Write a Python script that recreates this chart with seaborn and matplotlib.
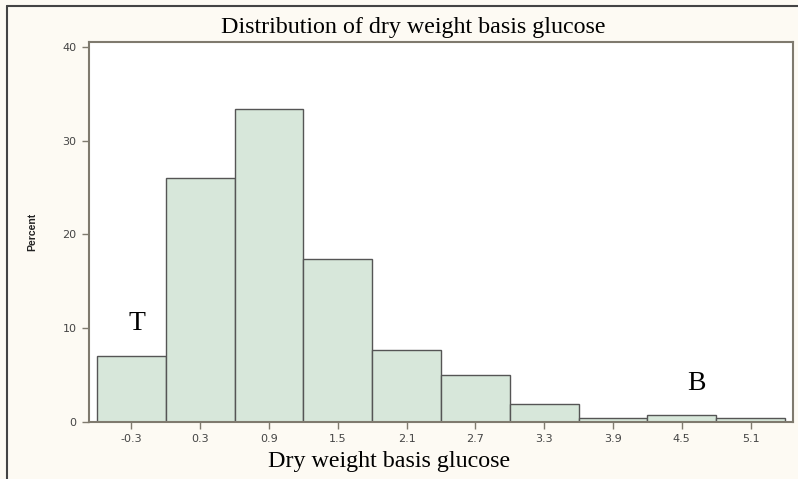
import numpy as np
import pandas as pd
import matplotlib
matplotlib.use("Agg")
import matplotlib.pyplot as plt
import seaborn as sns

# Data
bin_centers = [-0.3, 0.3, 0.9, 1.5, 2.1, 2.7, 3.3, 3.9, 4.5, 5.1]
percent = [7.0, 26.0, 33.35, 17.4, 7.7, 5.05, 1.9, 0.43, 0.72, 0.43]
x_tick_labels = ["-0.3", "0.3", "0.9", "1.5", "2.1", "2.7", "3.3", "3.9", "4.5", "5.1"]
y_ticks = [0, 10, 20, 30, 40]
title = "Distribution of dry weight basis glucose"
xlabel = "Dry weight basis glucose"
ylabel = "Percent"

df = pd.DataFrame({"center": bin_centers, "percent": percent})

sns.set_style("white")
plt.rcParams["font.family"] = ["DejaVu Sans"]
bg = "#FDFAF3"
fig = plt.figure(figsize=(7.98, 4.79), dpi=100, facecolor=bg)
ax = fig.add_axes([89 / 798, 1 - 422 / 479, (793 - 89) / 798, (422 - 42) / 479])
ax.set_facecolor("white")

sns.histplot(data=df, x="center", weights="percent", binwidth=0.6,
             binrange=(-0.6, 5.4), ax=ax,
             color="#D7E7DA", edgecolor="#555555", linewidth=1.0, alpha=1.0)

ax.set_xlim(-0.67, 5.47)
ax.set_ylim(0, 40.5)
ax.set_xticks(bin_centers)
ax.set_xticklabels(x_tick_labels)
ax.set_yticks(y_ticks)
ax.tick_params(axis="both", direction="out", length=5, width=1, color="#7F7A6E",
               labelsize=8, labelcolor="#444444", pad=4,
               bottom=True, left=True)
for s in ax.spines.values():
    s.set_color("#7F7A6E")
    s.set_linewidth(1.5)
ax.set_xlabel("")
ax.set_ylabel("")

serif = ["Liberation Serif", "DejaVu Serif"]
fig.text(413 / 798, 1 - 27 / 479, title, ha="center", va="center",
         fontsize=17.3, family=serif, color="black")
fig.text(389 / 798, 1 - 461 / 479, xlabel, ha="center", va="center",
         fontsize=17.3, family=serif, color="black")
fig.text(32 / 798, 1 - 232 / 479, ylabel, ha="center", va="center", rotation=90,
         fontsize=7.5, fontweight="bold", family=["Liberation Sans", "DejaVu Sans"],
         color="#222222")
fig.text(137 / 798, 1 - 323 / 479, "T", ha="center", va="center",
         fontsize=20, family=serif, color="black")
fig.text(696 / 798, 1 - 383 / 479, "B", ha="center", va="center",
         fontsize=20, family=serif, color="black")

# Outer frame lines (top and left)
fig.add_artist(plt.Line2D([7 / 798, 1], [1 - 6 / 479, 1 - 6 / 479],
                          transform=fig.transFigure, color="#444444", linewidth=1.5))
fig.add_artist(plt.Line2D([7 / 798, 7 / 798], [0, 1 - 6 / 479],
                          transform=fig.transFigure, color="#444444", linewidth=1.5))

fig.savefig("out.png", dpi=100, facecolor=bg)
